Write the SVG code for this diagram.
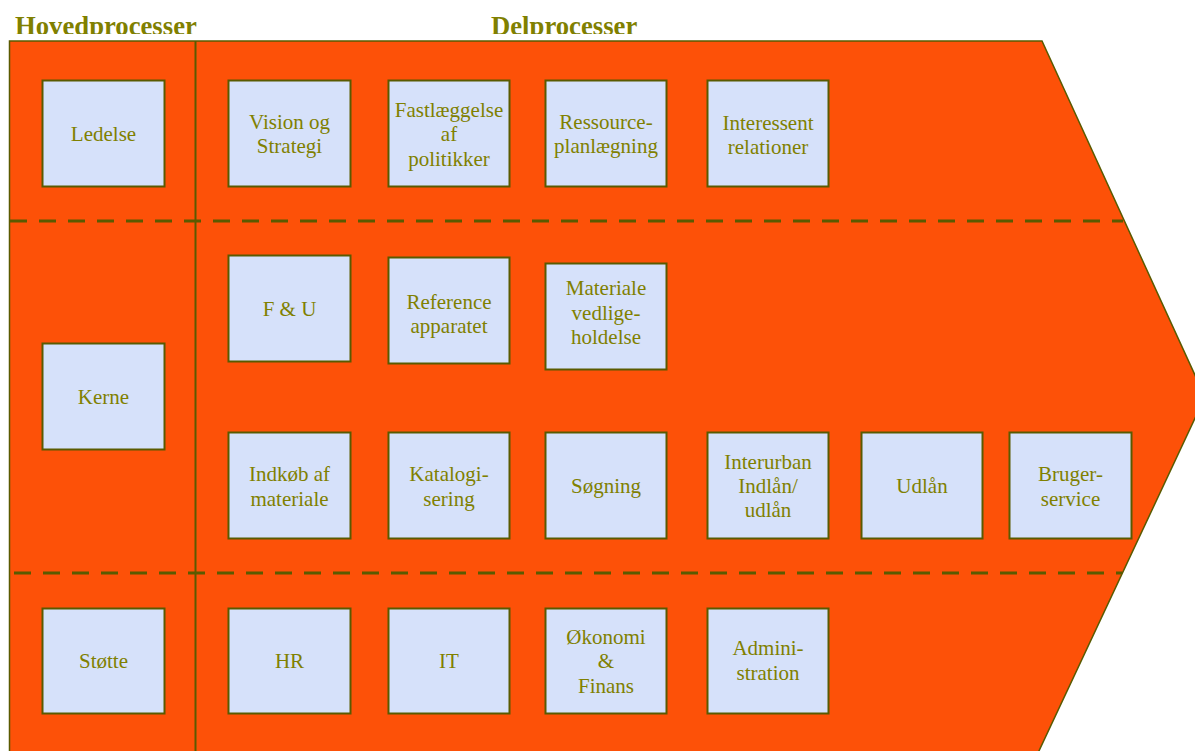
<svg xmlns="http://www.w3.org/2000/svg" width="1195" height="751" viewBox="0 0 1195 751">
<style>
.box{fill:#D6E1FA;stroke:#5A5A00;stroke-width:2}
.t{font-family:"Liberation Serif","Times New Roman",serif;font-size:21px;fill:#808000;text-anchor:middle}
.h{font-family:"Liberation Serif","Times New Roman",serif;font-size:26.7px;font-weight:bold;fill:#808000}
.dash{stroke:#5A5A00;stroke-width:3;stroke-dasharray:17 12;fill:none}
</style>
<defs>
<clipPath id="titleclip"><rect x="0" y="0" width="1195" height="34"/></clipPath>
</defs>
<rect x="0" y="0" width="1195" height="751" fill="#FFFFFF"/>
<g id="titles" clip-path="url(#titleclip)">
<text class="h" x="15" y="35">Hovedprocesser</text>
<text class="h" x="491" y="35">Delprocesser</text>
</g>
<g id="background">
<path d="M9.5,41 L1042,41 L1205,397 L1038,753 L9.5,753 Z" fill="#FD5108" stroke="#5A5A00" stroke-width="1.5"/>
<line x1="195.5" y1="41" x2="195.5" y2="751" stroke="#5A5A00" stroke-width="2"/>
</g>
<g id="connectors">
<line class="dash" x1="10" y1="221" x2="1123" y2="221"/>
<line class="dash" x1="14" y1="573" x2="1122" y2="573"/>
</g>
<g id="n-ledelse"><rect class="box" x="42.5" y="80.5" width="122" height="106"/><text class="t" x="103.5" y="141">Ledelse</text></g>
<g id="n-vision"><rect class="box" x="228.5" y="80.5" width="122" height="106"/><text class="t" x="289.5" y="128.5">Vision og</text><text class="t" x="289.5" y="153">Strategi</text></g>
<g id="n-fast"><rect class="box" x="388.5" y="80.5" width="121" height="106"/><text class="t" x="449" y="116.5">Fastlæggelse</text><text class="t" x="449" y="141">af</text><text class="t" x="449" y="165.5">politikker</text></g>
<g id="n-ressource"><rect class="box" x="545.5" y="80.5" width="121" height="106"/><text class="t" x="606" y="128.5">Ressource-</text><text class="t" x="606" y="153">planlægning</text></g>
<g id="n-interessent"><rect class="box" x="707.5" y="80.5" width="121" height="106"/><text class="t" x="768" y="129.5">Interessent</text><text class="t" x="768" y="154">relationer</text></g>
<g id="n-fu"><rect class="box" x="228.5" y="255.5" width="122" height="106"/><text class="t" x="289.5" y="315.7">F &amp; U</text></g>
<g id="n-reference"><rect class="box" x="388.5" y="257.5" width="121" height="106"/><text class="t" x="449" y="308.5">Reference</text><text class="t" x="449" y="333">apparatet</text></g>
<g id="n-materiale"><rect class="box" x="545.5" y="263.5" width="121" height="106"/><text class="t" x="606" y="295">Materiale</text><text class="t" x="606" y="319.5">vedlige-</text><text class="t" x="606" y="344">holdelse</text></g>
<g id="n-kerne"><rect class="box" x="42.5" y="343.5" width="122" height="106"/><text class="t" x="103.5" y="404">Kerne</text></g>
<g id="n-indkob"><rect class="box" x="228.5" y="432.5" width="122" height="106"/><text class="t" x="289.5" y="481">Indkøb af</text><text class="t" x="289.5" y="505.5">materiale</text></g>
<g id="n-katalog"><rect class="box" x="388.5" y="432.5" width="121" height="106"/><text class="t" x="449" y="481">Katalogi-</text><text class="t" x="449" y="505.5">sering</text></g>
<g id="n-sogning"><rect class="box" x="545.5" y="432.5" width="121" height="106"/><text class="t" x="606" y="493.3">Søgning</text></g>
<g id="n-interurban"><rect class="box" x="707.5" y="432.5" width="121" height="106"/><text class="t" x="768" y="469">Interurban</text><text class="t" x="768" y="493">Indlån/</text><text class="t" x="768" y="517">udlån</text></g>
<g id="n-udlan"><rect class="box" x="861.5" y="432.5" width="121" height="106"/><text class="t" x="922" y="493.3">Udlån</text></g>
<g id="n-bruger"><rect class="box" x="1009.5" y="432.5" width="122" height="106"/><text class="t" x="1070.5" y="481">Bruger-</text><text class="t" x="1070.5" y="505.5">service</text></g>
<g id="n-stotte"><rect class="box" x="42.5" y="608.5" width="122" height="105"/><text class="t" x="103.5" y="667.7">Støtte</text></g>
<g id="n-hr"><rect class="box" x="228.5" y="608.5" width="122" height="105"/><text class="t" x="289.5" y="667.7">HR</text></g>
<g id="n-it"><rect class="box" x="388.5" y="608.5" width="121" height="105"/><text class="t" x="449" y="667.7">IT</text></g>
<g id="n-okonomi"><rect class="box" x="545.5" y="608.5" width="121" height="105"/><text class="t" x="606" y="643.5">Økonomi</text><text class="t" x="606" y="668">&amp;</text><text class="t" x="606" y="692.5">Finans</text></g>
<g id="n-admin"><rect class="box" x="707.5" y="608.5" width="121" height="105"/><text class="t" x="768" y="655">Admini-</text><text class="t" x="768" y="679.5">stration</text></g>
</svg>
